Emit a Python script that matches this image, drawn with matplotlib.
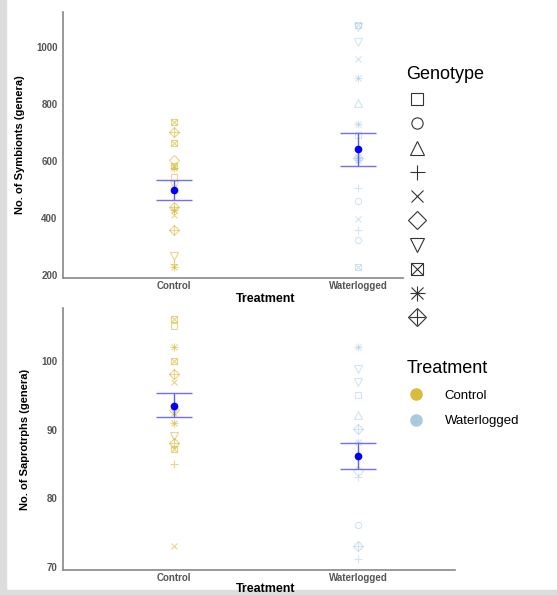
import matplotlib.pyplot as plt
from matplotlib.lines import Line2D
from matplotlib.patches import Rectangle

plt.rcParams["font.family"] = ["Liberation Sans", "DejaVu Sans"]

# ---- data ----
treatments = ["Control", "Waterlogged"]

symb_ctrl = [738, 703, 664, 603, 583, 574, 545, 516, 440, 428, 411, 358, 267, 239, 229]
symb_ctrl_geno = [7, 9, 7, 5, 7, 8, 0, 6, 9, 8, 4, 9, 6, 3, 8]
symb_wl = [1078, 1072, 1016, 958, 890, 802, 729, 691, 615, 610, 604, 504, 461, 395, 358, 323, 229]
symb_wl_geno = [7, 6, 6, 4, 8, 2, 8, 0, 8, 9, 8, 3, 1, 4, 3, 1, 7]
symb_mean = [498, 641]
symb_lo = [463, 582]
symb_hi = [532, 697]

sapr_ctrl = [106.1, 105.1, 102.0, 100.05, 98.1, 97.0, 93.3, 92.9, 92.4, 91.0, 89.05, 88.1, 87.1, 85.0, 73.1]
sapr_ctrl_geno = [7, 0, 8, 7, 9, 4, 1, 5, 4, 8, 6, 9, 7, 3, 4]
sapr_wl = [102.0, 98.9, 97.0, 95.0, 92.1, 90.1, 88.2, 84.0, 83.1, 76.1, 73.1, 71.1]
sapr_wl_geno = [8, 6, 6, 0, 2, 9, 8, 5, 3, 1, 9, 3]
sapr_mean = [93.5, 86.1]
sapr_lo = [91.8, 84.2]
sapr_hi = [95.3, 88.1]

# ggplot shape codes 0-9 -> matplotlib marker overlays
SHAPES = {
    0: [("s", 1.0)], 1: [("o", 0.9)], 2: [("^", 1.1)], 3: [("+", 1.2)],
    4: [("x", 1.0)], 5: [("D", 1.0)], 6: [("v", 1.1)],
    7: [("s", 1.0), ("x", 0.9)], 8: [("+", 1.2), ("x", 1.0)],
    9: [("D", 1.0), ("+", 1.3)],
}

col_ctrl = "#d4b62a"
col_wl = "#9ec4de"
grey_txt = "#555555"


def punkte(ax, xpos, werte, geno, farbe, alpha):
    for code in sorted(set(geno)):
        ys = [w for w, g in zip(werte, geno) if g == code]
        for m, s in SHAPES[code]:
            ax.plot([xpos] * len(ys), ys, linestyle="none", marker=m,
                    markersize=5 * s, markerfacecolor="none",
                    markeredgecolor=farbe, markeredgewidth=0.8, alpha=alpha)


def panel(ax, ctrl, ctrl_g, wl, wl_g, mean, lo, hi, ylab, ylim, yticks, xmax, xlab_pos):
    punkte(ax, 1, ctrl, ctrl_g, col_ctrl, 0.55)
    punkte(ax, 2, wl, wl_g, col_wl, 0.45)
    for i in range(2):
        x = i + 1
        ax.vlines(x, lo[i], hi[i], color="#5c5cff", lw=1.0)
        ax.hlines([lo[i], hi[i]], x - 0.1, x + 0.1, color="#6f6fff", lw=1.0)
        ax.plot(x, mean[i], "o", color="#0000ff", markersize=4.5)
    ax.set_xlim(0.397, xmax)
    ax.set_ylim(*ylim)
    ax.set_xticks([1, 2])
    ax.set_xticklabels(treatments, fontsize=7, fontweight="bold", color=grey_txt)
    ax.set_yticks(yticks)
    ax.set_yticklabels([str(t) for t in yticks], fontsize=7, fontweight="bold", color=grey_txt)
    ax.tick_params(axis="y", length=0, pad=4)
    ax.tick_params(axis="x", length=0, pad=2.5)
    ax.set_ylabel(ylab, fontsize=8, fontweight="bold", labelpad=8)
    ax.set_xlabel("Treatment", fontsize=9, fontweight="bold")
    ax.xaxis.set_label_coords(*xlab_pos)
    for s in ["top", "right"]:
        ax.spines[s].set_visible(False)
    for s in ["left", "bottom"]:
        ax.spines[s].set_color("#888888")
        ax.spines[s].set_linewidth(1.2)


fig = plt.figure(figsize=(5.57, 5.95), dpi=100)

ax1 = fig.add_axes([63 / 557, 1 - 278 / 595, 340 / 557, 266 / 595])
panel(ax1, symb_ctrl, symb_ctrl_geno, symb_wl, symb_wl_geno, symb_mean, symb_lo, symb_hi,
      "No. of Symbionts (genera)", (189.5, 1123), [200, 400, 600, 800, 1000], 2.245,
      ((266 - 63) / 340, -0.055))

ax2 = fig.add_axes([63 / 557, 1 - 570 / 595, 392 / 557, 262 / 595])
panel(ax2, sapr_ctrl, sapr_ctrl_geno, sapr_wl, sapr_wl_geno, sapr_mean, sapr_lo, sapr_hi,
      "No. of Saprotrphs (genera)", (69.53, 107.73), [70, 80, 90, 100], 2.527,
      ((266 - 63) / 392, -0.048))

# Genotype legend (shapes only)
geno_handles = []
for code in range(10):
    teile = tuple(Line2D([], [], linestyle="none", marker=m, markersize=9 * s,
                         markerfacecolor="none", markeredgecolor="#333333",
                         markeredgewidth=0.8) for m, s in SHAPES[code])
    geno_handles.append(teile)
leg1 = fig.legend(geno_handles, [""] * 10, title="Genotype", title_fontsize=13,
                  loc="upper left", bbox_to_anchor=(401 / 557, 1 - 60 / 595),
                  frameon=False, fontsize=10, labelspacing=0.74, handlelength=1.5,
                  alignment="left", borderaxespad=0)

# Treatment legend
tr_handles = [Line2D([], [], linestyle="none", marker="o", markersize=8,
                     markerfacecolor=c, markeredgecolor=c) for c in ["#d8bc3c", "#a9c9de"]]
leg2 = fig.legend(tr_handles, treatments, title="Treatment", title_fontsize=13,
                  loc="upper left", bbox_to_anchor=(401 / 557, 1 - 355 / 595),
                  frameon=False, fontsize=9.5, labelspacing=1.0, handlelength=1.5,
                  handletextpad=1.4, alignment="left", borderaxespad=0)
leg2._legend_box.sep = 9

# light grey frame of the screenshot
fig.patches.append(Rectangle((0, 0), 6 / 557, 1, transform=fig.transFigure,
                             color="#dddddd", zorder=-1))
fig.patches.append(Rectangle((0, 0), 1, 5 / 595, transform=fig.transFigure,
                             color="#dddddd", zorder=-1))

plt.savefig("out.png", dpi=100)
